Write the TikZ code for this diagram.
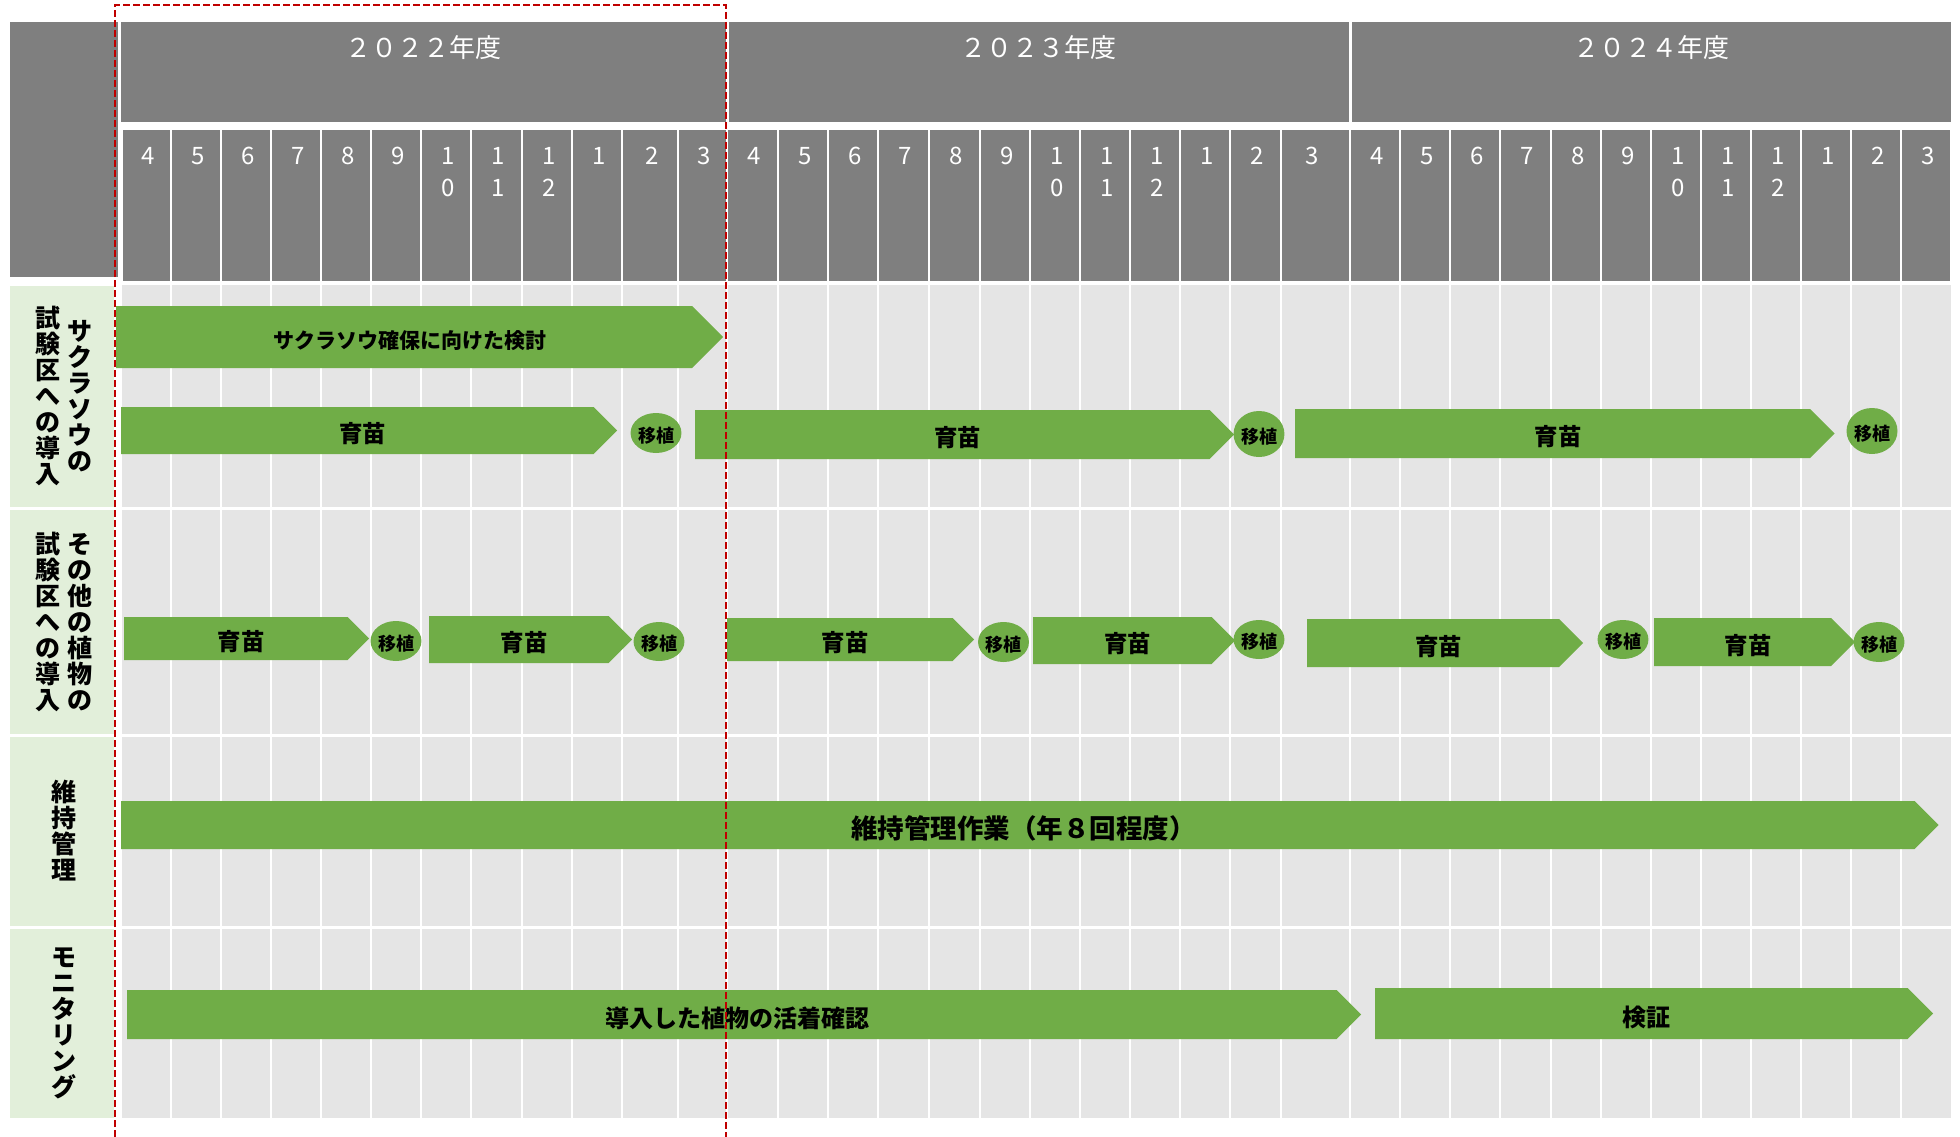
\documentclass[tikz,border=0pt]{standalone}
\usepackage{fontspec}
\setmainfont{Noto Sans CJK JP}
\usetikzlibrary{shapes.geometric,shapes.symbols}

\definecolor{hdrgray}{HTML}{7F7F7F}
\definecolor{cellgray}{HTML}{E5E5E5}
\definecolor{labgreen}{HTML}{E2EFDA}
\definecolor{barg}{HTML}{70AD47}
\definecolor{dashred}{HTML}{C00000}

\tikzset{x=1pt, y=-1pt, % one unit is one pixel of the sheet
        yearlab/.style={ % year above the months
            text=white, anchor=base, inner sep=0pt,
            font=\fontsize{26}{30}\selectfont},
        monlab/.style={ % month number, two digits stacked
            text=white, anchor=north, inner sep=0pt, align=center, xshift=2pt,
            font=\fontsize{24}{32}\selectfont},
        rowlab/.style={ % vertical row title
            inner sep=0pt, align=center,
            font=\fontsize{25}{26}\selectfont\bfseries},
        task/.style={ % green bar with a point
            shape=signal, signal to=east, signal pointer angle=90,
            fill=barg, inner sep=0pt, anchor=west,
            execute at begin node={\hspace*{11pt}\rule{0pt}{1.15em}}, % text a bit right and low
            font=\fontsize{23.5}{26}\selectfont\bfseries},
        plant/.style={ % round mark for planting out
            ellipse, fill=barg, inner sep=0pt,
            execute at begin node={\rule{0pt}{1.15em}},
            font=\fontsize{18}{20}\selectfont\bfseries},
        gridline/.style={white, line width=2.5pt}
        }

\begin{document}
\begin{tikzpicture}
    \useasboundingbox (0,0) rectangle (1960,1137);

    % header
    \fill[hdrgray] (10,22) rectangle (118,277);
    \foreach \a/\b/\yr [count=\k] in {121/726/２０２２年度, 729/1348.5/２０２３年度, 1351.5/1951/２０２４年度}{
        \fill[hdrgray] (\a,22) rectangle (\b,122);
        \node[yearlab] (y\k) at ({(\a+\b)/2},58) {\yr};
    }
    \foreach \a/\b in {122/171, 171/221, 221/271, 271/321, 321/371, 371/421, 421/471, 471/522, 522/572,
            572/622, 622/678, 678/727, 727/778, 778/828, 828/878, 878/929, 929/980, 980/1030, 1030/1080,
            1080/1130, 1130/1180, 1180/1230, 1230/1281, 1281/1350, 1350/1400, 1400/1450, 1450/1500,
            1500/1551, 1551/1601, 1601/1651, 1651/1701, 1701/1751, 1751/1801, 1801/1851, 1851/1901, 1901/1951}
        \fill[hdrgray] (\a+1.25,130) rectangle (\b-1.25,281);
    \foreach \a/\b/\mo [count=\k] in {122/171/4, 171/221/5, 221/271/6, 271/321/7, 321/371/8, 371/421/9,
            421/471/{1\\0}, 471/522/{1\\1}, 522/572/{1\\2}, 572/622/1, 622/678/2, 678/727/3,
            727/778/4, 778/828/5, 828/878/6, 878/929/7, 929/980/8, 980/1030/9,
            1030/1080/{1\\0}, 1080/1130/{1\\1}, 1130/1180/{1\\2}, 1180/1230/1, 1230/1281/2, 1281/1339/3,
            1350/1400/4, 1400/1450/5, 1450/1500/6, 1500/1551/7, 1551/1601/8, 1601/1651/9,
            1651/1701/{1\\0}, 1701/1751/{1\\1}, 1751/1801/{1\\2}, 1801/1851/1, 1851/1901/2, 1901/1951/3}{
        \node[monlab] (m\k) at ({(\a+\b)/2},147) {\mo};
    }

    % body grid
    \fill[cellgray] (122,285) rectangle (1951,1118);
    \foreach \x in {171,221,271,321,371,421,471,522,572,622,678,727,778,828,878,929,980,1030,
            1080,1130,1180,1230,1281,1350,1400,1450,1500,1551,1601,1651,1701,1751,1801,1851,1901}
        \draw[gridline] (\x,285) -- (\x,1118);
    \foreach \y in {508.5,735.5,927.5}
        \draw[gridline, line width=3pt] (122,\y) -- (1951,\y);

    % row titles
    \fill[labgreen] (10,286) rectangle (114,507);
    \fill[labgreen] (10,510) rectangle (114,734);
    \fill[labgreen] (10,737) rectangle (114,926);
    \fill[labgreen] (10,929) rectangle (114,1118);
    \node[rowlab] (r1a) at (80,396) {サ\\ク\\ラ\\ソ\\ウ\\の};
    \node[rowlab] (r1b) at (47.5,396) {試\\験\\区\\へ\\の\\導\\入};
    \node[rowlab] (r2a) at (80,622) {そ\\の\\他\\の\\植\\物\\の};
    \node[rowlab] (r2b) at (47.5,622) {試\\験\\区\\へ\\の\\導\\入};
    \node[rowlab] (r3) at (64,831) {維\\持\\管\\理};
    \node[rowlab] (r4) at (64,1023.5) {モ\\ニ\\タ\\リ\\ン\\グ};

    % sakurasou
    \node[task, minimum width=607, minimum height=62, font=\fontsize{21}{24}\selectfont\bfseries] (s1) at (116,337) {サクラソウ確保に向けた検討};
    \node[task, minimum width=496, minimum height=47] (s2) at (121,430.5) {育苗};
    \node[plant, minimum width=47, minimum height=40] (p1) at (656,433) {移植};
    \node[task, minimum width=539, minimum height=49] (s3) at (695,434.5) {育苗};
    \node[plant, minimum width=50, minimum height=46] (p2) at (1259,434) {移植};
    \node[task, minimum width=539.5, minimum height=49] (s4) at (1295,433.5) {育苗};
    \node[plant, minimum width=51, minimum height=46] (p3) at (1872,431) {移植};

    % other plants
    \node[task, minimum width=245, minimum height=43] (o1) at (124,638.5) {育苗};
    \node[plant, minimum width=46, minimum height=40] (q1) at (396,641) {移植};
    \node[task, minimum width=203, minimum height=47] (o2) at (429,639.5) {育苗};
    \node[plant, minimum width=46, minimum height=39] (q2) at (659,641.5) {移植};
    \node[task, minimum width=247, minimum height=43] (o3) at (727,639.5) {育苗};
    \node[plant, minimum width=45, minimum height=40] (q3) at (1003.5,642) {移植};
    \node[task, minimum width=202, minimum height=47] (o4) at (1033,640.5) {育苗};
    \node[plant, minimum width=46, minimum height=39] (q4) at (1259,639.5) {移植};
    \node[task, minimum width=276, minimum height=48] (o5) at (1307,643) {育苗};
    \node[plant, minimum width=46, minimum height=39] (q5) at (1623,639.5) {移植};
    \node[task, minimum width=201, minimum height=48] (o6) at (1654,642) {育苗};
    \node[plant, minimum width=44, minimum height=40] (q6) at (1879,642) {移植};

    % upkeep and monitoring
    \node[task, minimum width=1817.5, minimum height=48, font=\fontsize{26.5}{28}\selectfont\bfseries] (k1) at (121,825) {維持管理作業（年８回程度）};
    \node[task, minimum width=1234, minimum height=49, font=\fontsize{24}{26}\selectfont\bfseries] (n1) at (127,1014.5) {導入した植物の活着確認};
    \node[task, minimum width=558, minimum height=51, font=\fontsize{24}{26}\selectfont\bfseries] (n2) at (1375,1013.5) {検証};

    % this year
    \draw[dashred, line width=2.5pt, dash pattern=on 7pt off 3pt] (115,1137) -- (115,5) -- (726,5) -- (726,1137);
\end{tikzpicture}
\end{document}
